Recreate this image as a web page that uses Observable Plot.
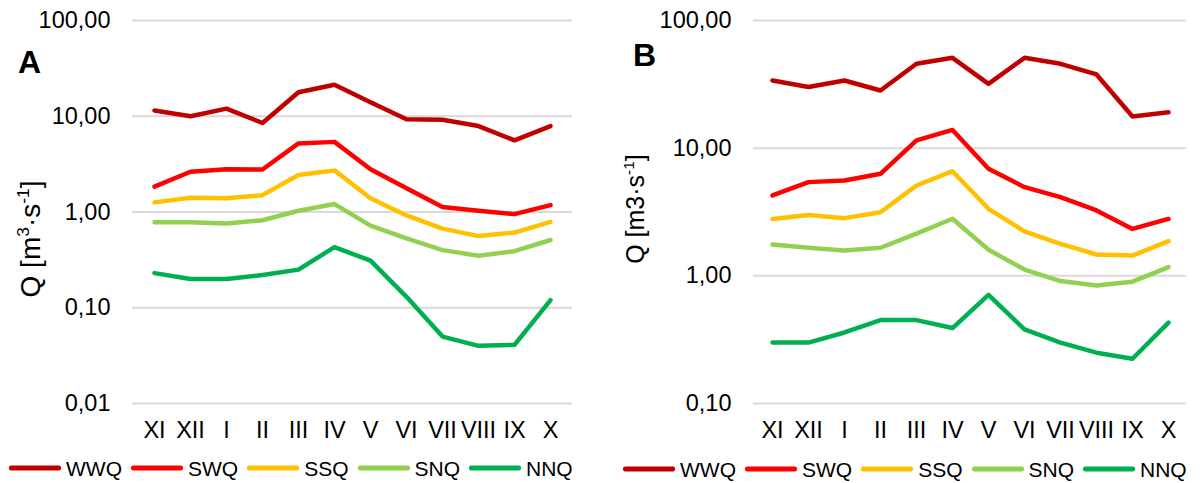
<!DOCTYPE html>
<html>
<head>
<meta charset="utf-8">
<script src="https://cdn.jsdelivr.net/npm/d3@7"></script>
<script src="https://cdn.jsdelivr.net/npm/@observablehq/plot@0.6"></script>
<style>
  html, body { margin: 0; padding: 0; background: #fff; }
  body { font-family: "Liberation Sans", Arial, sans-serif; color: #000; }
  #root { position: relative; width: 1200px; height: 483px; overflow: hidden; }
  .panel { position: absolute; top: 0; width: 600px; }
  .letter { position: absolute; font-weight: bold; font-size: 32px; line-height: 1; }
  .ytitle { position: absolute; white-space: nowrap; line-height: 1; transform: translate(-50%, -50%) rotate(-90deg); }
  .sup { font-size: 0.62em; vertical-align: 0.62em; line-height: 0; }
  .legend { position: absolute; display: flex; align-items: center; font-size: 21px; line-height: 1; }
  .legend .item { display: flex; align-items: center; margin-right: 9px; }
  .legend .swatch { width: 52px; height: 4.5px; border-radius: 2px; margin-right: 5px; }
</style>
</head>
<body>
<div id="root"></div>
<script>
// ---- data ----
const months = ["XI","XII","I","II","III","IV","V","VI","VII","VIII","IX","X"];
const seriesNames = ["WWQ","SWQ","SSQ","SNQ","NNQ"];
const seriesColors = ["#c00000","#ff0000","#ffc000","#92d050","#00b050"];

// Panel A
const wwqA = [11.5, 10.0, 12.0, 8.5, 17.8, 21.3, 14.0, 9.3, 9.2, 7.9, 5.6, 7.9];
const swqA = [1.84, 2.63, 2.8, 2.78, 5.2, 5.4, 2.79, 1.77, 1.13, 1.03, 0.95, 1.18];
const ssqA = [1.26, 1.41, 1.39, 1.5, 2.43, 2.72, 1.39, 0.92, 0.67, 0.56, 0.61, 0.79];
const snqA = [0.78, 0.78, 0.76, 0.82, 1.03, 1.21, 0.72, 0.53, 0.40, 0.35, 0.39, 0.51];
const nnqA = [0.23, 0.20, 0.20, 0.22, 0.25, 0.43, 0.31, 0.13, 0.05, 0.04, 0.041, 0.12];
const yTicksA = [0.01, 0.1, 1, 10, 100];

// Panel B
const wwqB = [33.9, 30.1, 33.9, 28.3, 45.8, 51, 31.9, 51, 45.8, 37.8, 17.7, 19.1];
const swqB = [4.26, 5.42, 5.59, 6.3, 11.5, 13.9, 6.9, 4.95, 4.13, 3.25, 2.33, 2.79];
const ssqB = [2.79, 3.0, 2.83, 3.15, 5.1, 6.6, 3.35, 2.23, 1.78, 1.47, 1.44, 1.87];
const snqB = [1.76, 1.66, 1.58, 1.66, 2.14, 2.8, 1.6, 1.12, 0.91, 0.84, 0.90, 1.17];
const nnqB = [0.30, 0.30, 0.36, 0.45, 0.45, 0.39, 0.71, 0.38, 0.30, 0.25, 0.224, 0.43];
const yTicksB = [0.1, 1, 10, 100];

// ---- build ----
function toRows(arrs) {
  return arrs.flatMap((vals, i) => vals.map((v, j) => ({series: seriesNames[i], month: months[j], value: v})));
}
const rowsA = toRows([wwqA, swqA, ssqA, snqA, nnqA]);
const rowsB = toRows([wwqB, swqB, ssqB, snqB, nnqB]);
const fmt = d => d.toFixed(2).replace(".", ",");

function makePlot(rows, ticks, domain, marginLeft, marginRight) {
  return Plot.plot({
    width: 600, height: 450,
    marginLeft, marginRight, marginTop: 20, marginBottom: 47,
    style: {fontFamily: "'Liberation Sans', Arial, sans-serif", fontSize: "23.5px", color: "#000", background: "transparent", overflow: "visible"},
    x: {type: "point", domain: months, padding: 0.5, label: null},
    y: {type: "log", domain, label: null},
    color: {domain: seriesNames, range: seriesColors},
    marks: [
      Plot.gridY(ticks, {stroke: "#d9d9d9", strokeOpacity: 1, strokeWidth: 2}),
      Plot.axisY(ticks, {tickSize: 0, tickPadding: 22, tickFormat: fmt, label: null}),
      Plot.axisX({tickSize: 0, tickPadding: 18, label: null}),
      Plot.line(rows, {x: "month", y: "value", z: "series", stroke: "series", strokeWidth: 4.5, strokeLinejoin: "round", strokeLinecap: "round"})
    ]
  });
}

const root = document.getElementById("root");
function addPanel(plot, left) {
  const d = document.createElement("div");
  d.className = "panel";
  d.style.left = left + "px";
  d.appendChild(plot);
  root.appendChild(d);
}
addPanel(makePlot(rowsA, yTicksA, [0.01, 100], 132, 28), 0);
addPanel(makePlot(rowsB, yTicksB, [0.1, 100], 153, 14), 600);

function addHTML(html) { root.insertAdjacentHTML("beforeend", html); }
addHTML('<div class="letter" style="left:18px; top:46px;">A</div>');
addHTML('<div class="letter" style="left:633px; top:39px;">B</div>');
addHTML('<div class="ytitle" style="left:31px; top:239px; font-size:28px;">Q [m<span class="sup">3</span>·s<span class="sup">-1</span>]</div>');
addHTML('<div class="ytitle" style="left:635px; top:209px; font-size:25px;">Q [m3·s<span class="sup">-1</span>]</div>');

function addLegend(left, top) {
  const items = seriesNames.map((s, i) =>
    `<div class="item"><div class="swatch" style="background:${seriesColors[i]}"></div><span>${s}</span></div>`).join("");
  addHTML(`<div class="legend" style="left:${left}px; top:${top}px; transform: translateY(-50%);">${items}</div>`);
}
addLegend(9, 468);
addLegend(623, 469);
</script>
</body>
</html>
